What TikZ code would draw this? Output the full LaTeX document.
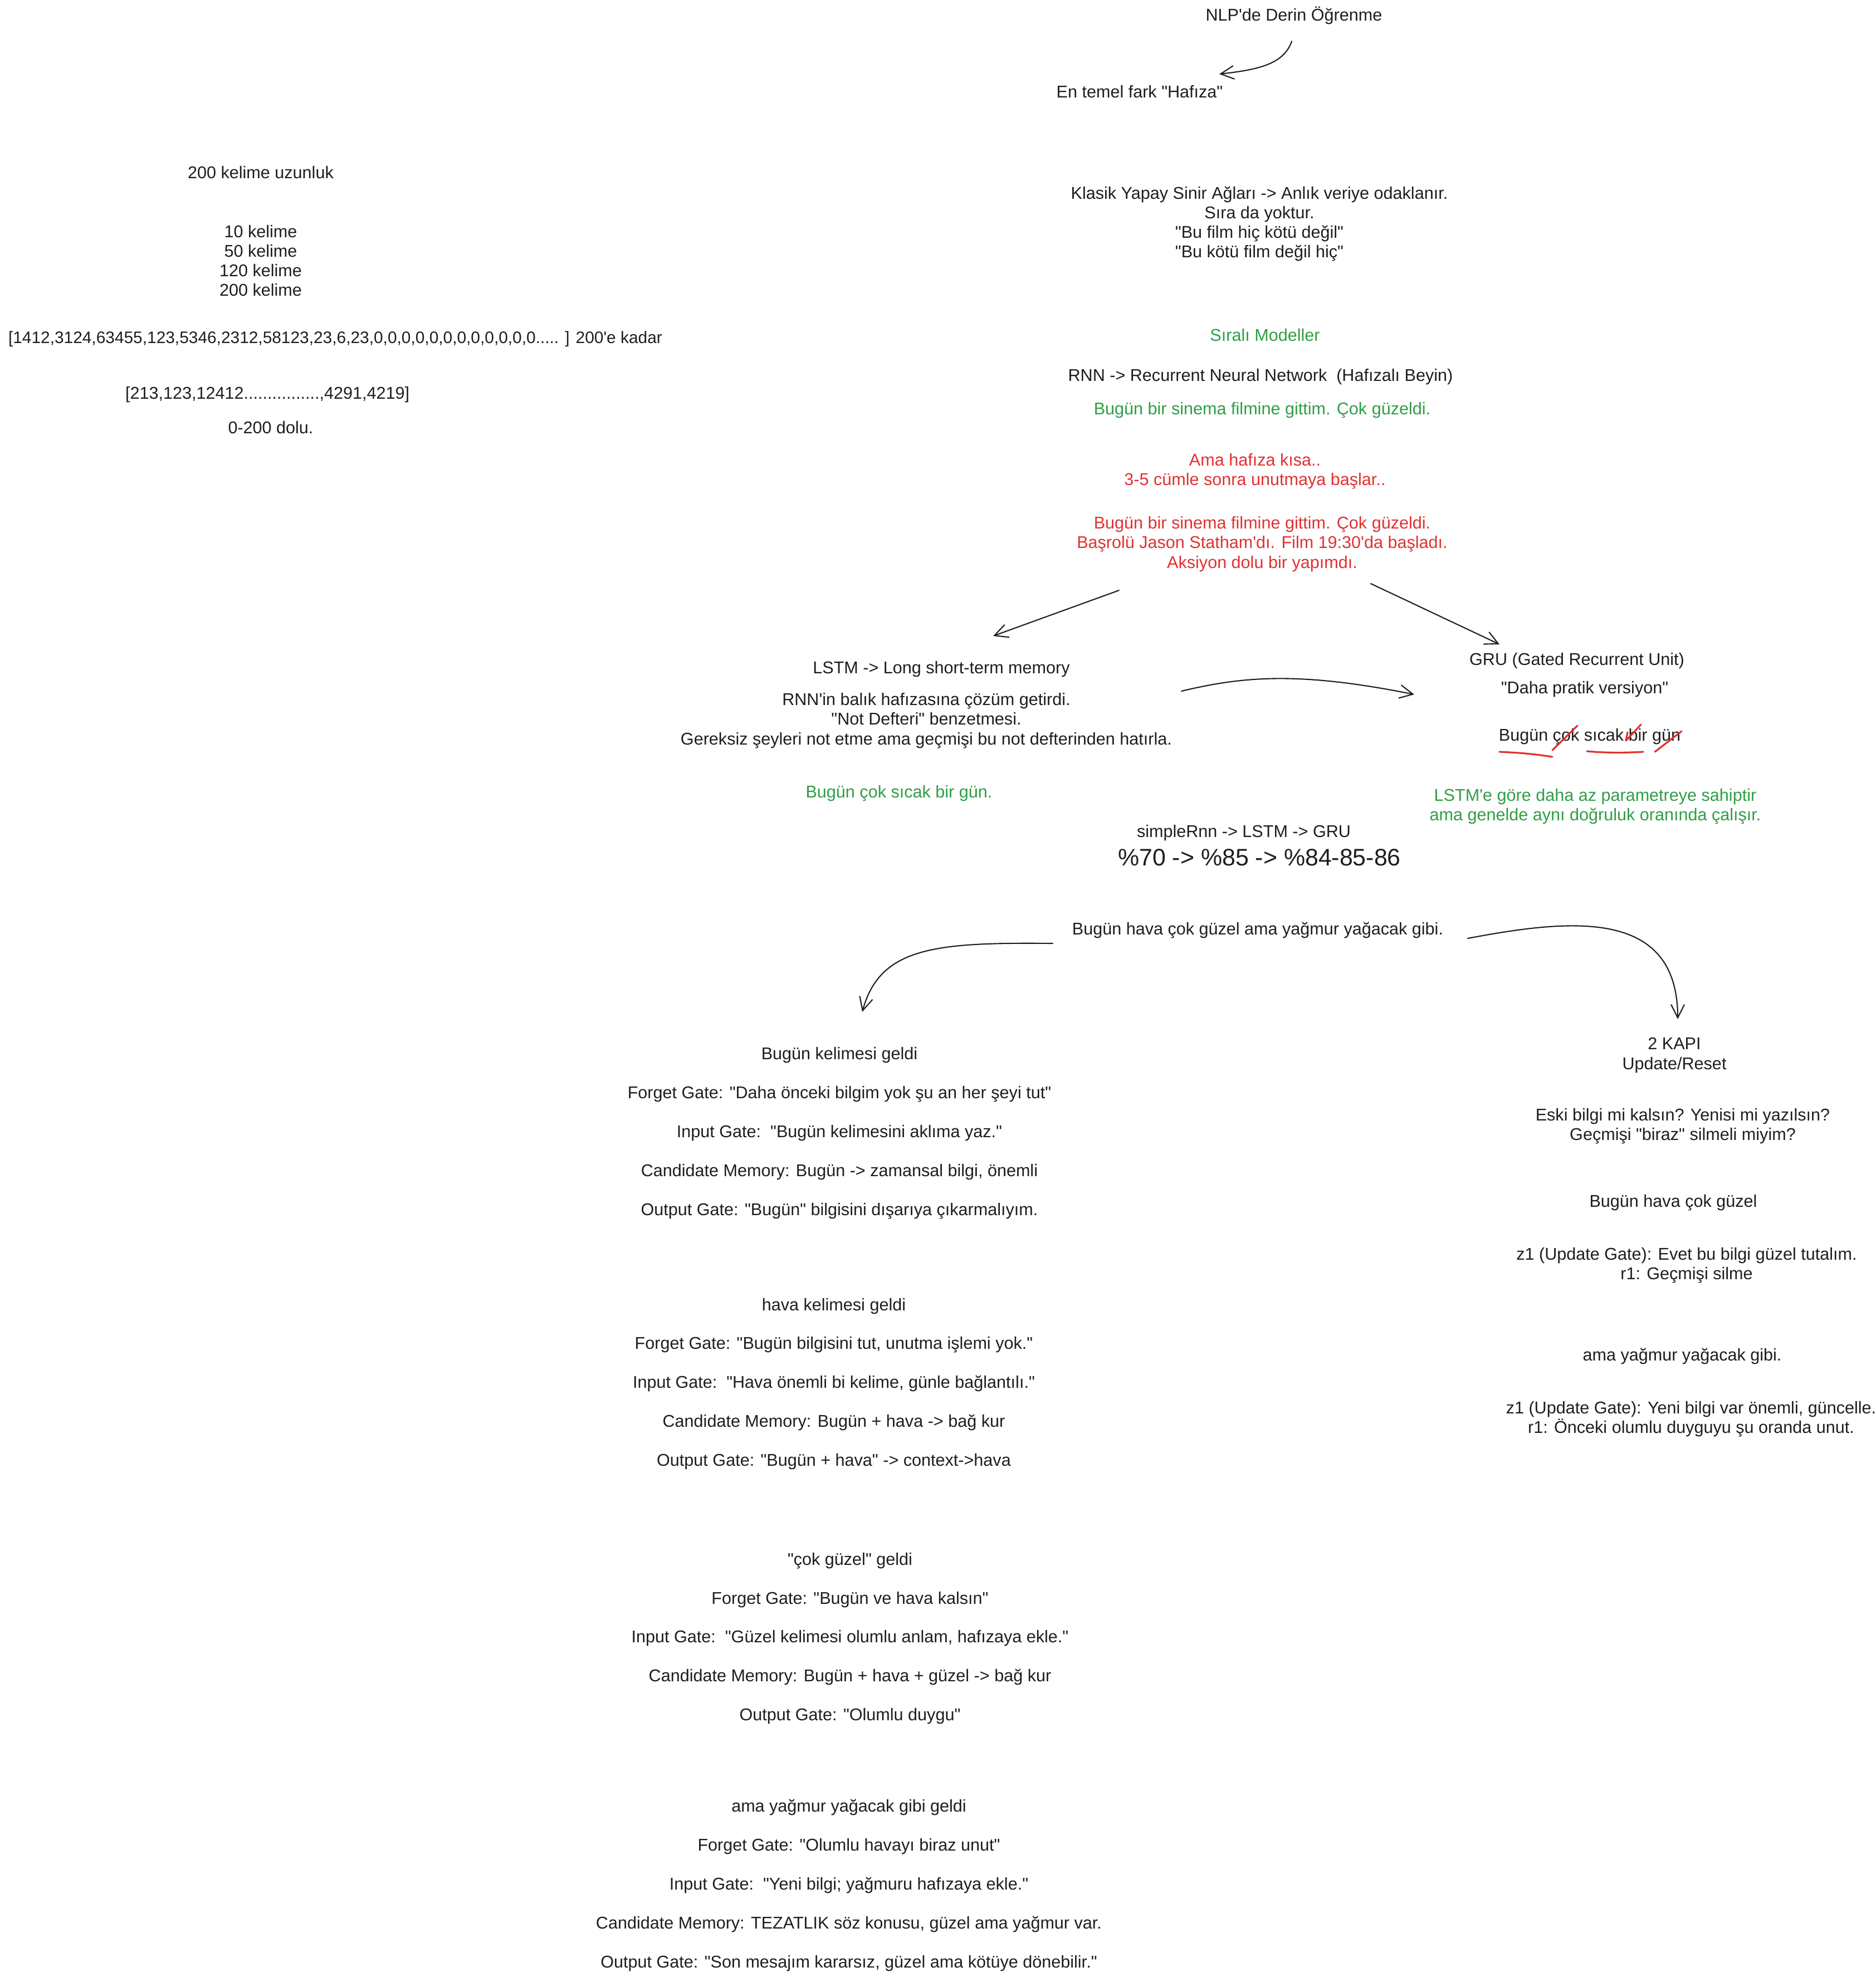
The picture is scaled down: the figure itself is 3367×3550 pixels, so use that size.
\documentclass[tikz,border=0pt]{standalone}
\usepackage{fontspec}
\setmainfont{Liberation Sans}[Ligatures=TeXOff]
\usetikzlibrary{arrows.meta}
\definecolor{ink}{HTML}{1E1E1E}
\definecolor{yesil}{HTML}{2F9E44}
\definecolor{kirmizi}{HTML}{E03131}
\begin{document}
\begin{tikzpicture}[x=0.1mm, y=-0.1mm, >={Straight Barb[length=2.4mm,width=2.4mm]}, line join=round, line cap=round,
	yazi/.style={text=ink, align=center, inner sep=1pt, font=\fontsize{8.7}{10}\selectfont},
	yesilyazi/.style={yazi, text=yesil},
	kirmiziyazi/.style={yazi, text=kirmizi},
	kapilar/.style={yazi, font=\fontsize{8.7}{19.9}\selectfont},
	ok/.style={->, draw=ink, line width=0.6pt}]
	\useasboundingbox (0,0) rectangle (3367,3550);
	% ust kisim
	\node[yazi] (nlp) at (2323,28) {NLP'de Derin Öğrenme};
	\node[yazi] (temel) at (2046,165) {En temel fark "Hafıza"};
	\draw[ok] ([shift={(-4,46)}]nlp.center) .. controls ([shift={(-18,87)}]nlp.center) and ([shift={(214,-40)}]temel.center) .. ([shift={(143,-32)}]temel.center);
	% sol: uzunluk
	\node[yazi] (uzun) at (468,310) {200 kelime uzunluk};
	\node[yazi] (kelimeler) at (468,468) {10 kelime\\50 kelime\\120 kelime\\200 kelime};
	\node[yazi, font=\fontsize{8.5}{10}\selectfont] (dizi1) at (602,609) {[1412,3124,63455,123,5346,2312,58123,23,6,23,0,0,0,0,0,0,0,0,0,0,0,0..... ] 200'e kadar};
	\node[yazi] (dizi2) at (480,709) {[213,123,12412................,4291,4219]};
	\node[yazi] (dolu) at (486,768) {0-200 dolu.};
	% orta: klasik ve RNN
	\node[yazi] (klasik) at (2261,402) {Klasik Yapay Sinir Ağları -> Anlık veriye odaklanır.\\Sıra da yoktur.\\"Bu film hiç kötü değil"\\"Bu kötü film değil hiç"};
	\node[yesilyazi] (sirali) at (2271,602) {Sıralı Modeller};
	\node[yazi] (rnn) at (2263,677) {RNN -> Recurrent Neural Network~~(Hafızalı Beyin)};
	\node[yesilyazi] (rnnok) at (2266,737) {Bugün bir sinema filmine gittim. Çok güzeldi.};
	\node[kirmiziyazi] (kisa) at (2253,846) {Ama hafıza kısa..\\3-5 cümle sonra unutmaya başlar..};
	\node[kirmiziyazi] (rnnred) at (2266,977) {Bugün bir sinema filmine gittim. Çok güzeldi.\\Başrolü Jason Statham'dı. Film 19:30'da başladı.\\Aksiyon dolu bir yapımdı.};
	% LSTM
	\node[yazi] (lstm) at (1690,1202) {LSTM -> Long short-term memory};
	\node[yazi] (lstmtxt) at (1663,1294) {RNN'in balık hafızasına çözüm getirdi.\\"Not Defteri" benzetmesi.\\Gereksiz şeyleri not etme ama geçmişi bu not defterinden hatırla.};
	\node[yesilyazi] (lstmex) at (1614,1425) {Bugün çok sıcak bir gün.};
	% GRU
	\node[yazi] (gru) at (2831,1187) {GRU (Gated Recurrent Unit)};
	\node[yazi] (gruq) at (2845,1238) {"Daha pratik versiyon"};
	\node[yazi] (gruex) at (2854,1323) {Bugün çok sıcak bir gün};
	\node[yesilyazi] (gruok) at (2864,1448) {LSTM'e göre daha az parametreye sahiptir\\ama genelde aynı doğruluk oranında çalışır.};
	\begin{scope}[shift={(gruex.center)}, draw=kirmizi, line width=0.9pt]
		\draw (-162,27) .. controls (-120,29) and (-100,31) .. (-67,36);
		\draw (-67,24) -- (-22,-20);
		\draw (-5,26) .. controls (30,29) and (60,29) .. (96,27);
		\draw (68,-8) -- (65,7) -- (92,-22);
		\draw (117,27) -- (165,-10);
	\end{scope}
	\draw[ok] ([shift={(-257,83)}]rnnred.center) -- ([shift={(93,-60)}]lstm.center);
	\draw[ok] ([shift={(195,71)}]rnnred.center) -- ([shift={(-139,-30)}]gru.center);
	\draw[ok] ([shift={(458,-53)}]lstmtxt.center) .. controls ([shift={(567,-79)}]lstmtxt.center) and ([shift={(-515,-33)}]gruq.center) .. ([shift={(-306,9)}]gruq.center);
	% basari oranlari
	\node[yazi] (oran) at (2233,1496) {simpleRnn -> LSTM -> GRU};
	\node[yazi, font=\fontsize{12.2}{14}\selectfont] (yuzde) at (2261,1540) {\%70 -> \%85 -> \%84-85-86};
	\node[yazi] (cumle) at (2258,1670) {Bugün hava çok güzel ama yağmur yağacak gibi.};
	% LSTM adimlari
	\node[kapilar] (adim1) at (1507,2035) {Bugün kelimesi geldi\\Forget Gate: "Daha önceki bilgim yok şu an her şeyi tut"\\Input Gate:~~"Bugün kelimesini aklıma yaz."\\Candidate Memory: Bugün -> zamansal bilgi, önemli\\Output Gate: "Bugün" bilgisini dışarıya çıkarmalıyım.};
	\node[kapilar] (adim2) at (1497,2485) {hava kelimesi geldi\\Forget Gate: "Bugün bilgisini tut, unutma işlemi yok."\\Input Gate:~~"Hava önemli bi kelime, günle bağlantılı."\\Candidate Memory: Bugün + hava -> bağ kur\\Output Gate: "Bugün + hava" -> context->hava};
	\node[kapilar] (adim3) at (1526,2942) {"çok güzel" geldi\\Forget Gate: "Bugün ve hava kalsın"\\Input Gate:~~"Güzel kelimesi olumlu anlam, hafızaya ekle."\\Candidate Memory: Bugün + hava + güzel -> bağ kur\\Output Gate: "Olumlu duygu"};
	\node[kapilar] (adim4) at (1524,3385) {ama yağmur yağacak gibi geldi\\Forget Gate: "Olumlu havayı biraz unut"\\Input Gate:~~"Yeni bilgi; yağmuru hafızaya ekle."\\Candidate Memory: TEZATLIK söz konusu, güzel ama yağmur var.\\Output Gate: "Son mesajım kararsız, güzel ama kötüye dönebilir."};
	% GRU adimlari
	\node[yazi] (kapi) at (3006,1895) {2 KAPI\\Update/Reset};
	\node[yazi] (soru) at (3021,2022) {Eski bilgi mi kalsın? Yenisi mi yazılsın?\\Geçmişi "biraz" silmeli miyim?};
	\node[yazi] (sag1) at (3004,2160) {Bugün hava çok güzel};
	\node[yazi] (z1a) at (3028,2272) {z1 (Update Gate): Evet bu bilgi güzel tutalım.\\r1: Geçmişi silme};
	\node[yazi] (sag2) at (3020,2435) {ama yağmur yağacak gibi.};
	\node[yazi] (z1b) at (3036,2548) {z1 (Update Gate): Yeni bilgi var önemli, güncelle.\\r1: Önceki olumlu duyguyu şu oranda unut.};
	\draw[ok] ([shift={(-368,24)}]cumle.center) .. controls ([shift={(-578,22)}]cumle.center) and ([shift={(73,-335)}]adim1.center) .. ([shift={(41,-218)}]adim1.center);
	\draw[ok] ([shift={(377,15)}]cumle.center) .. controls ([shift={(562,-20)}]cumle.center) and ([shift={(6,-265)}]kapi.center) .. ([shift={(6,-65)}]kapi.center);
\end{tikzpicture}
\end{document}
